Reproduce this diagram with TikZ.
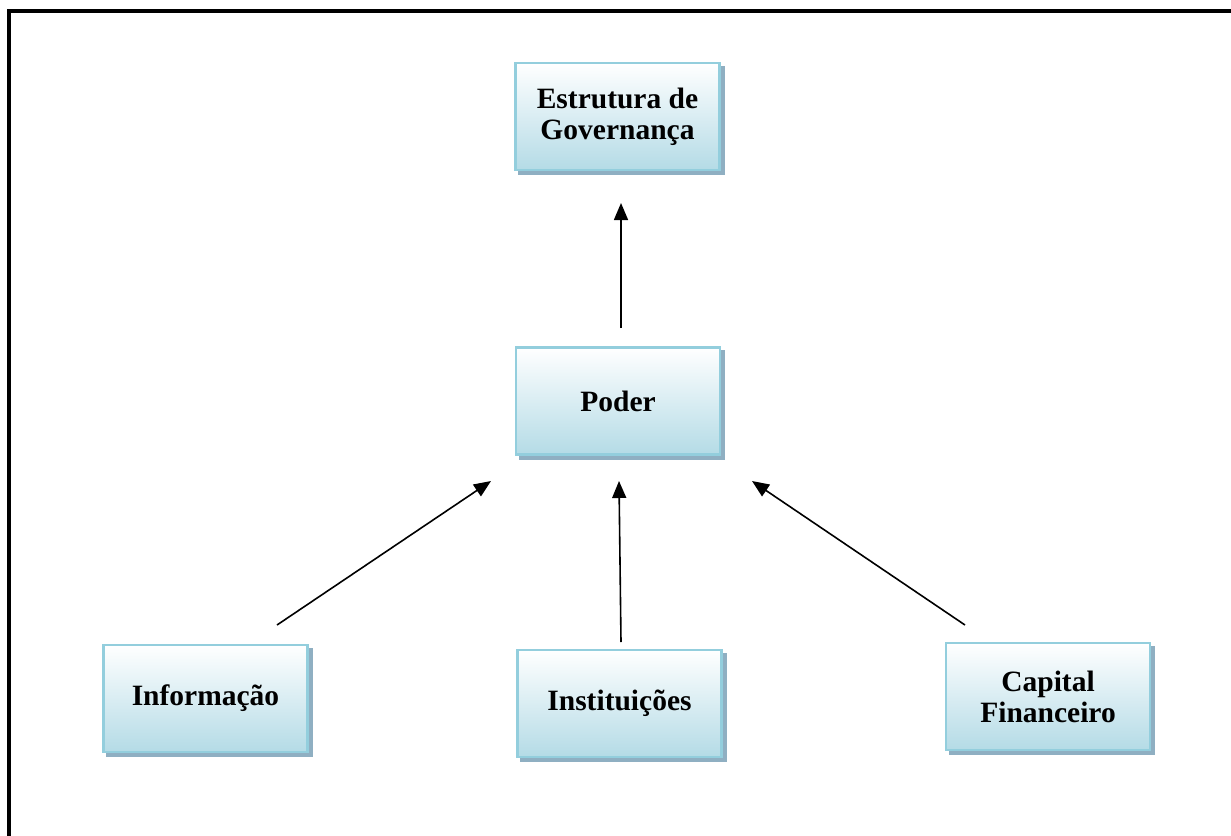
\documentclass[tikz,border=0pt]{standalone}
\usepackage{fontspec}
\setmainfont{Liberation Serif}
\usetikzlibrary{arrows.meta,calc}
\definecolor{boxborder}{HTML}{93CEDD}
\definecolor{boxbottom}{HTML}{B4DBE6}
\definecolor{boxshadow}{HTML}{8FAFC2}
\tikzset{
  govbox/.style={rectangle, draw=boxborder, line width=2.5pt,
    top color=white, bottom color=boxbottom,
    minimum width=204pt, minimum height=107pt, align=center,
    font=\bfseries\fontsize{29.5}{31}\selectfont, inner sep=0pt,
    preaction={fill=boxshadow, draw=boxshadow, line width=2.5pt,
      transform canvas={shift={(4pt,-4pt)}}}},
  govarrow/.style={line width=1.6pt, -{Triangle[length=17pt,width=14pt]}}
}
\begin{document}
\begin{tikzpicture}[x=1pt,y=-1pt]
\useasboundingbox (0,0) rectangle (1231,835);
\begin{scope}
\clip (0,0) rectangle (1231,835);
\draw[line width=3.5pt] (9,11) rectangle (1250,860);
\end{scope}
\node[govbox] (estr) at (617.5,116.5) {Estrutura de\\Governança};
\node[govbox] (poder) at (618,401) {Poder};
\node[govbox] (info) at (205.5,698.5) {Informação};
\node[govbox] (inst) at (619.5,703.5) {Instituições};
\node[govbox] (cap) at (1048,696.5) {Capital\\Financeiro};
\coordinate (pS) at (621,328);
\coordinate (pE) at (621,203);
\coordinate (iS) at (277,625);
\coordinate (iE) at (491,481);
\coordinate (nS) at (621,642);
\coordinate (nE) at (619,481);
\coordinate (cS) at (965,625);
\coordinate (cE) at (752,481);
\draw[govarrow] (pS) -- (pE);
\draw[govarrow] (iS) -- (iE);
\draw[govarrow] (nS) -- (nE);
\draw[govarrow] (cS) -- (cE);
\end{tikzpicture}
\end{document}
